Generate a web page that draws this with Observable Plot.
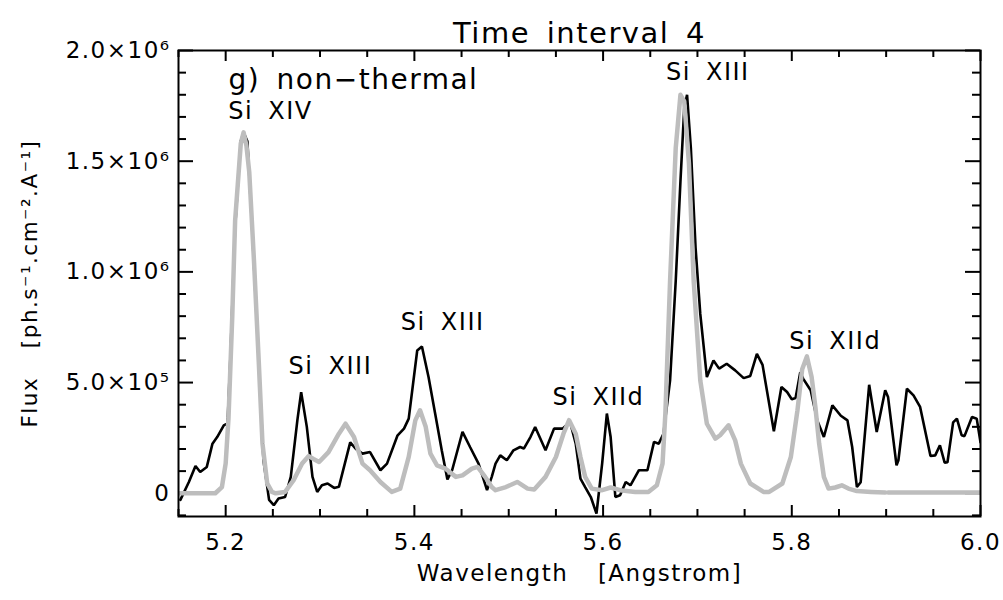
<!DOCTYPE html>
<html>
<head>
<meta charset="utf-8">
<script src="https://cdn.jsdelivr.net/npm/d3@7"></script>
<script src="https://cdn.jsdelivr.net/npm/@observablehq/plot@0.6"></script>
<style>
  html, body { margin: 0; padding: 0; background: #fff; }
  #chart svg { display: block; }
</style>
</head>
<body>
<div id="chart"></div>
<script>
// ---- Data ----
const titleText = "Time interval 4";
const xLabelText = "Wavelength  [Angstrom]";
const yLabelText = "Flux  [ph.s⁻¹.cm⁻².A⁻¹]";
const panelText = "g) non−thermal";

// observed spectrum (black)
const wavelengthObs = [5.152,5.161,5.168,5.173,5.180,5.186,5.191,5.198,5.202,5.205,5.210,5.216,5.219,5.223,5.228,5.235,5.240,5.246,5.251,5.256,5.263,5.269,5.276,5.280,5.286,5.292,5.297,5.302,5.308,5.315,5.320,5.332,5.338,5.345,5.353,5.364,5.371,5.382,5.389,5.394,5.403,5.408,5.415,5.422,5.429,5.435,5.440,5.451,5.459,5.468,5.477,5.482,5.486,5.491,5.498,5.505,5.512,5.516,5.523,5.528,5.539,5.548,5.557,5.565,5.571,5.576,5.581,5.587,5.593,5.599,5.604,5.608,5.613,5.618,5.624,5.629,5.638,5.647,5.654,5.659,5.664,5.671,5.677,5.682,5.686,5.689,5.693,5.698,5.703,5.710,5.717,5.723,5.731,5.740,5.749,5.756,5.763,5.769,5.781,5.789,5.795,5.800,5.804,5.809,5.812,5.820,5.827,5.834,5.843,5.852,5.859,5.864,5.869,5.873,5.882,5.890,5.899,5.902,5.911,5.913,5.922,5.929,5.936,5.947,5.952,5.957,5.962,5.965,5.971,5.975,5.980,5.983,5.991,5.996,6.000];
const fluxObs = [-3e4,5.1e4,1.23e5,9.6e4,1.19e5,2.24e5,2.54e5,3.07e5,3.16e5,6.15e5,1.20e6,1.59e6,1.63e6,1.59e6,1.20e6,6.0e5,1.5e5,-3e4,-5.4e4,-2.4e4,-1.7e4,7.4e4,3.3e5,4.57e5,3.0e5,7.4e4,6e3,3.6e4,4.4e4,2.4e4,2.9e4,2.3e5,2.0e5,1.79e5,1.86e5,1.04e5,1.34e5,2.6e5,2.92e5,3.37e5,6.45e5,6.63e5,5.25e5,3.6e5,1.94e5,6.2e4,1.04e5,2.77e5,2.09e5,1.34e5,1.4e4,7.4e4,1.34e5,1.71e5,1.49e5,1.94e5,2.09e5,2.02e5,2.54e5,2.99e5,1.94e5,2.92e5,2.92e5,3.22e5,2.24e5,6.6e4,2.8e4,-1.7e4,-9.2e4,1.34e5,3.6e5,2.54e5,-1.7e4,-9e3,5.1e4,3.6e4,1.04e5,1.04e5,2.32e5,2.24e5,2.69e5,5.1e5,9.6e5,1.41e6,1.74e6,1.80e6,1.56e6,1.11e6,8.1e5,5.25e5,6.0e5,5.63e5,5.85e5,5.55e5,5.2e5,5.3e5,6.3e5,5.8e5,2.8e5,4.8e5,4.57e5,4.25e5,4.3e5,5.47e5,5.18e5,4.65e5,3.29e5,2.54e5,3.97e5,3.5e5,3.29e5,2.09e5,2.8e4,5.0e4,4.9e5,2.77e5,4.65e5,4.35e5,1.26e5,1.49e5,4.72e5,4.42e5,3.9e5,1.68e5,1.71e5,2.17e5,1.38e5,1.4e5,3.2e5,3.37e5,2.62e5,2.58e5,3.44e5,3.37e5,2.3e5];

// non-thermal model (grey); null marks the gap near 5.90
const wavelengthModel = [5.150,5.189,5.196,5.200,5.203,5.207,5.210,5.216,5.219,5.222,5.225,5.230,5.235,5.239,5.244,5.249,5.253,5.263,5.272,5.281,5.288,5.293,5.299,5.309,5.320,5.327,5.336,5.345,5.353,5.364,5.376,5.385,5.394,5.401,5.406,5.412,5.417,5.424,5.433,5.444,5.451,5.461,5.467,5.475,5.482,5.486,5.497,5.509,5.520,5.527,5.539,5.550,5.558,5.564,5.571,5.576,5.581,5.588,5.599,5.608,5.618,5.634,5.648,5.657,5.663,5.666,5.671,5.677,5.682,5.686,5.691,5.696,5.703,5.710,5.719,5.724,5.733,5.740,5.746,5.756,5.770,5.776,5.790,5.799,5.806,5.811,5.816,5.821,5.825,5.829,5.834,5.839,5.846,5.853,5.860,5.869,5.884,5.899,5.900,5.902,6.000];
const fluxModel = [0,0,2.8e4,1.35e5,3.4e5,8.0e5,1.23e6,1.58e6,1.63e6,1.57e6,1.45e6,1.05e6,6.0e5,2.25e5,4.5e4,6e3,0,6e3,5.9e4,1.34e5,1.68e5,1.55e5,1.41e5,1.86e5,2.69e5,3.14e5,2.54e5,1.34e5,1.04e5,5.1e4,6e3,2.1e4,1.64e5,3.29e5,3.75e5,3.0e5,1.79e5,1.26e5,1.11e5,7.4e4,8.1e4,1.11e5,1.19e5,7.4e4,2.8e4,1.4e4,2.8e4,5.1e4,2.1e4,1.7e4,7.4e4,1.64e5,2.69e5,3.3e5,2.69e5,1.64e5,7.4e4,2.1e4,1.4e4,2.6e4,1.4e4,6e3,6e3,3.6e4,1.34e5,3.6e5,9.6e5,1.56e6,1.80e6,1.77e6,1.49e6,9.6e5,5.1e5,3.14e5,2.47e5,2.62e5,3.07e5,2.39e5,1.34e5,4.4e4,6e3,6e3,4.4e4,1.64e5,3.75e5,5.6e5,6.18e5,5.25e5,3.9e5,2.24e5,7.4e4,2.1e4,2.6e4,3.6e4,2.1e4,1e4,6e3,3e3,null,3e3,3e3];

// line identifications
const lineLabels = ["Si XIV","Si XIII","Si XIII","Si XIId","Si XIII","Si XIId"];
const lineLabelWavelength = [5.2475,5.311,5.430,5.595,5.711,5.846];
const lineLabelFlux = [1.725e6,5.73e5,7.72e5,4.33e5,1.90e6,6.86e5];
const panelWavelength = [5.203];
const panelFlux = [1.865e6];

// axes
const xDomain = [5.15, 6.0];
const yDomain = [-1.05e5, 2.0e6];
const xMajorTicks = [5.2,5.4,5.6,5.8,6.0];
const xMajorTickLabels = ["5.2","5.4","5.6","5.8","6.0"];
const xMinorTicks = [5.15,5.25,5.3,5.35,5.45,5.5,5.55,5.65,5.7,5.75,5.85,5.9,5.95];
const yMajorTicks = [0,5e5,1e6,1.5e6,2e6];
const yMajorTickLabels = ["0","5.0×10⁵","1.0×10⁶","1.5×10⁶","2.0×10⁶"];
const yMinorTicks = [-1e5,1e5,2e5,3e5,4e5,6e5,7e5,8e5,9e5,1.1e6,1.2e6,1.3e6,1.4e6,1.6e6,1.7e6,1.8e6,1.9e6];

// ---- Build tables ----
const obs = wavelengthObs.map((w, i) => ({w, f: fluxObs[i]}));
const model = wavelengthModel.map((w, i) => ({w, f: fluxModel[i]}));
const labels = lineLabels.map((t, i) => ({t, w: lineLabelWavelength[i], f: lineLabelFlux[i]}));
const panel = [{t: panelText, w: panelWavelength[0], f: panelFlux[0]}];

const W = 1003, H = 600;
const mT = 50, mB = 84, mL = 178, mR = 23;
const plotH = H - mT - mB, plotW = W - mL - mR;
const font = "DejaVu Sans";

const chart = Plot.plot({
  width: W, height: H,
  marginTop: mT, marginBottom: mB, marginLeft: mL, marginRight: mR,
  x: {domain: xDomain},
  y: {domain: yDomain},
  style: {fontFamily: font, fontSize: "23px", color: "black", background: "white", letterSpacing: "1.5px", wordSpacing: "6px"},
  marks: [
    // tick labels
    Plot.axisX({ticks: xMajorTicks, tickSize: 0, tickPadding: 17, tickFormat: d => xMajorTickLabels[xMajorTicks.indexOf(d)], label: null}),
    Plot.axisY({ticks: yMajorTicks, tickSize: 0, tickPadding: 8, tickFormat: d => yMajorTickLabels[yMajorTicks.indexOf(d)], label: null}),
    // inward ticks: bottom/top
    Plot.tickX(xMajorTicks, {x: d => d, insetTop: plotH - 11, strokeWidth: 2}),
    Plot.tickX(xMinorTicks, {x: d => d, insetTop: plotH - 7, strokeWidth: 2}),
    Plot.tickX(xMajorTicks, {x: d => d, insetBottom: plotH - 11, strokeWidth: 2}),
    Plot.tickX(xMinorTicks, {x: d => d, insetBottom: plotH - 7, strokeWidth: 2}),
    // inward ticks: left/right
    Plot.tickY(yMajorTicks, {y: d => d, insetRight: plotW - 15, strokeWidth: 2}),
    Plot.tickY(yMinorTicks, {y: d => d, insetRight: plotW - 8, strokeWidth: 2}),
    Plot.tickY(yMajorTicks, {y: d => d, insetLeft: plotW - 15, strokeWidth: 2}),
    Plot.tickY(yMinorTicks, {y: d => d, insetLeft: plotW - 8, strokeWidth: 2}),
    // spectra
    Plot.line(obs, {x: "w", y: "f", stroke: "black", strokeWidth: 2.6, strokeLinejoin: "miter", clip: true}),
    Plot.line(model, {x: "w", y: "f", stroke: "#bdbdbd", strokeWidth: 4.5, clip: true}),
    Plot.frame({stroke: "black", strokeWidth: 2}),
    // annotations
    Plot.text(labels, {x: "w", y: "f", text: "t", textAnchor: "middle", fontSize: 24, fill: "black"}),
    Plot.text(panel, {x: "w", y: "f", text: "t", textAnchor: "start", fontSize: 28, fill: "black"}),
    Plot.text([titleText], {frameAnchor: "top", dy: -28, fontSize: 29, fill: "black"}),
    Plot.text([xLabelText], {frameAnchor: "bottom", dy: 64, fontSize: 23, fill: "black"}),
    Plot.text([yLabelText], {frameAnchor: "left", dx: -148, rotate: -90, textAnchor: "middle", fontSize: 21.5, fill: "black"})
  ]
});
document.getElementById("chart").appendChild(chart);
</script>
</body>
</html>
